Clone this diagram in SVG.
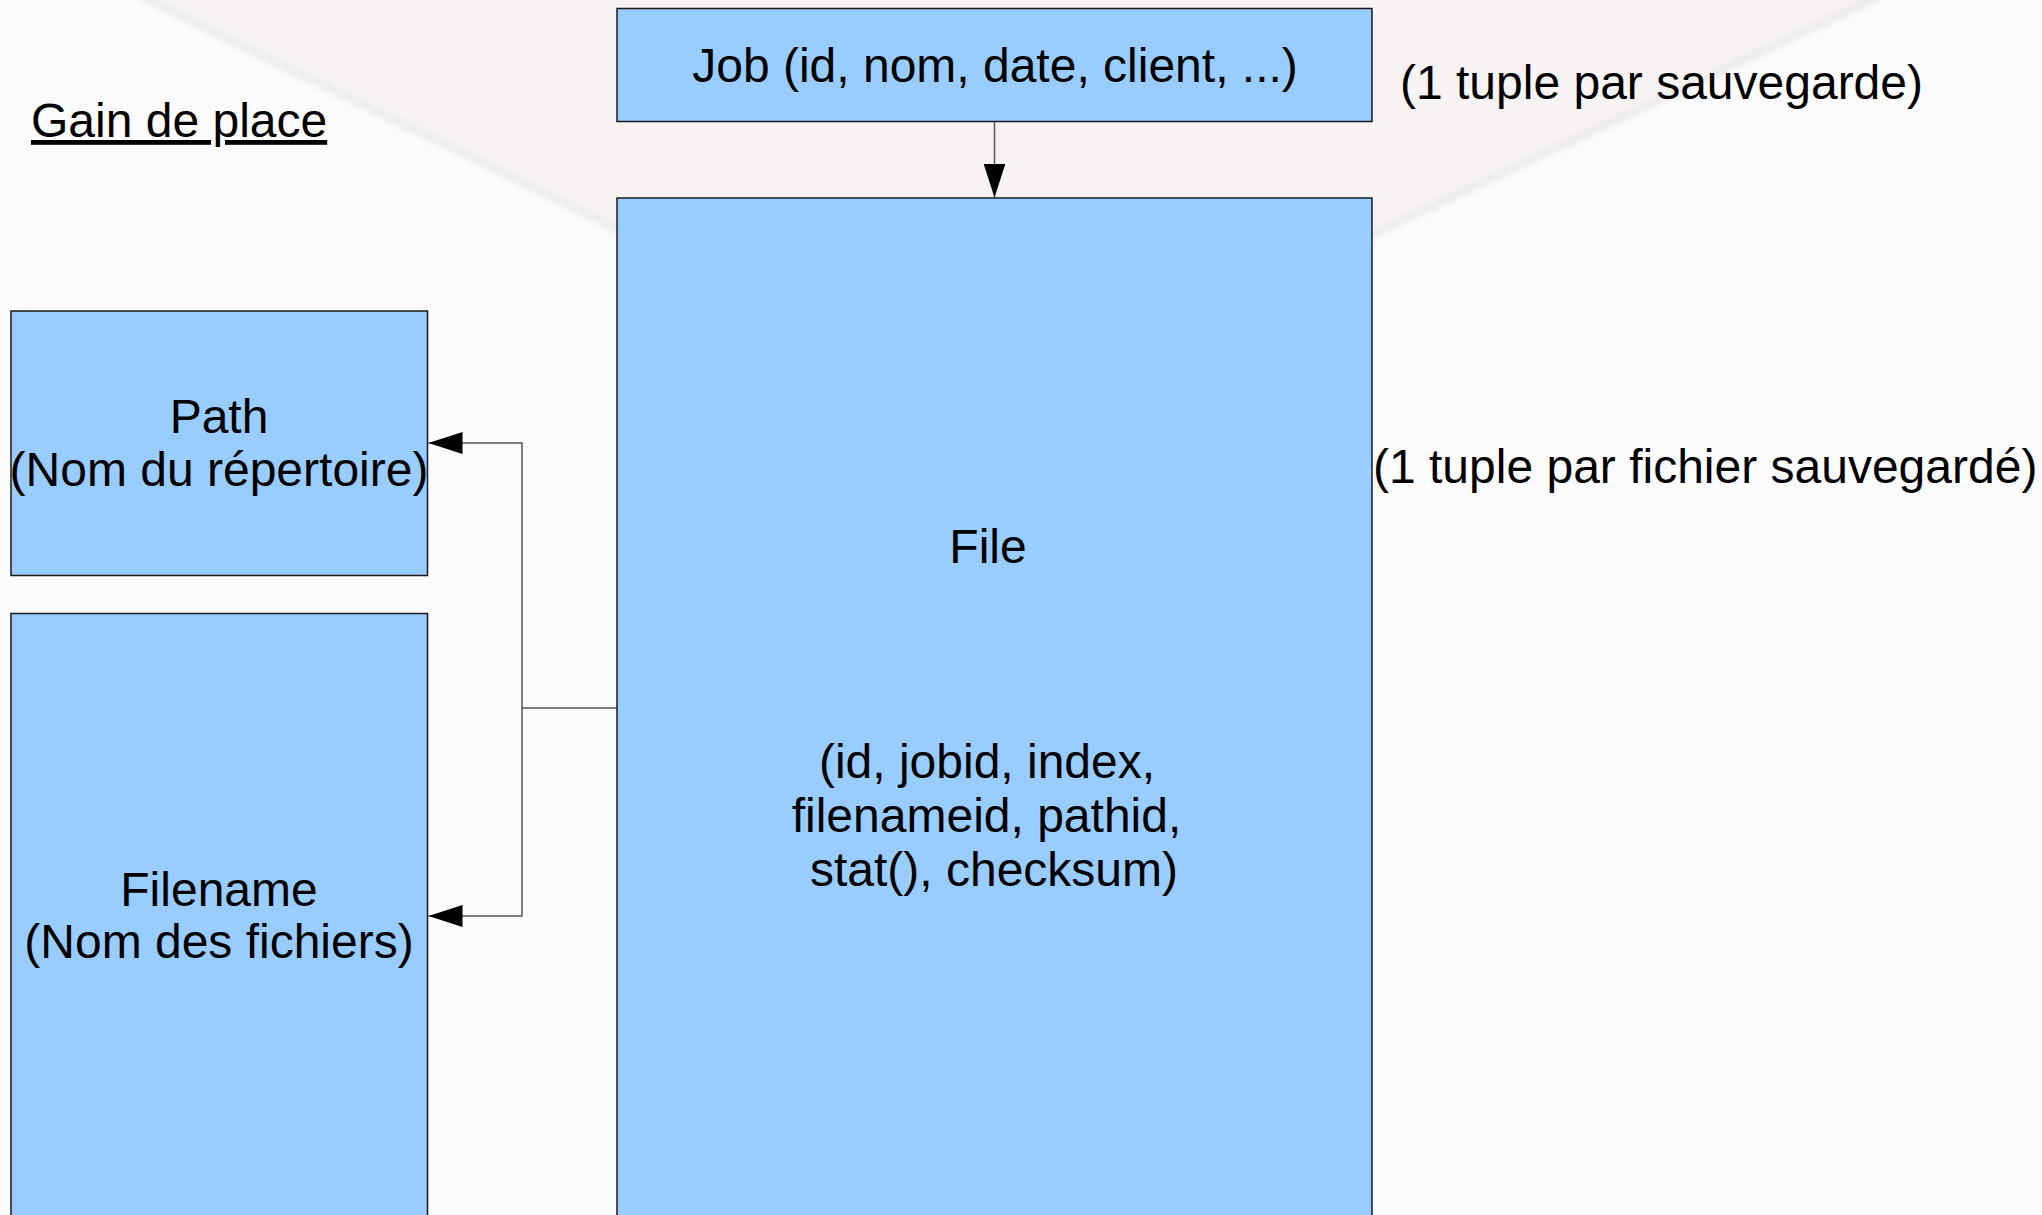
<svg xmlns="http://www.w3.org/2000/svg" width="2042" height="1215" viewBox="0 0 2042 1215">
  <defs>
    <filter id="soft" x="-10%" y="-10%" width="120%" height="120%">
      <feGaussianBlur stdDeviation="3"/>
    </filter>
    <marker id="arrow" markerUnits="userSpaceOnUse" markerWidth="36" markerHeight="24" refX="34" refY="11" orient="auto">
      <path d="M0,0 L34,11 L0,22 Z" fill="#000"/>
    </marker>
    <style>
      .box { fill: #99ccff; stroke: #1a1a1a; stroke-width: 1.5; }
      .lbl { font-family: "Liberation Sans", Arial, sans-serif; font-size: 48px; fill: #000; }
      .mid { text-anchor: middle; }
      .conn { fill: none; stroke: #555; stroke-width: 1.5; }
    </style>
  </defs>

  <!-- backdrop -->
  <rect x="0" y="0" width="2042" height="1215" fill="#fbfbfb"/>
  <polygon points="149,0 1872,0 994,412" fill="#f8f3f3"/>
  <g filter="url(#soft)" stroke="#e9e9e9" stroke-width="7" fill="none">
    <line x1="140" y1="-4" x2="994" y2="412"/>
    <line x1="1880" y1="-4" x2="994" y2="412"/>
  </g>

  <!-- title -->
  <text class="lbl" x="31" y="137" text-decoration="underline">Gain de place</text>

  <!-- connectors -->
  <g id="connectors">
    <line class="conn" x1="994.5" y1="122" x2="994.5" y2="197.5" stroke="#333" marker-end="url(#arrow)"/>
    <polyline class="conn" points="617,708 522,708 522,443 428.5,443" marker-end="url(#arrow)"/>
    <polyline class="conn" points="522,708 522,916 428.5,916" marker-end="url(#arrow)"/>
  </g>

  <!-- Job table -->
  <g id="job">
    <rect class="box" x="617" y="8.5" width="755" height="113"/>
    <text class="lbl mid" x="995" y="82">Job (id, nom, date, client, ...)</text>
  </g>
  <text class="lbl" x="1400" y="99">(1 tuple par sauvegarde)</text>

  <!-- File table -->
  <g id="file">
    <rect class="box" x="617" y="198" width="755" height="1100"/>
    <text class="lbl mid" x="988" y="563">File</text>
    <text class="lbl mid" x="987" y="778">(id, jobid, index,</text>
    <text class="lbl mid" x="986.5" y="832">filenameid, pathid,</text>
    <text class="lbl mid" x="994" y="886">stat(), checksum)</text>
  </g>
  <text class="lbl" x="1373" y="483">(1 tuple par fichier sauvegardé)</text>

  <!-- Path table -->
  <g id="path">
    <rect class="box" x="11" y="311" width="416.5" height="264.5"/>
    <text class="lbl mid" x="219" y="433">Path</text>
    <text class="lbl mid" x="219" y="486">(Nom du répertoire)</text>
  </g>

  <!-- Filename table -->
  <g id="filename">
    <rect class="box" x="11" y="613.5" width="416.5" height="700"/>
    <text class="lbl mid" x="219" y="906">Filename</text>
    <text class="lbl mid" x="219" y="958">(Nom des fichiers)</text>
  </g>
</svg>
